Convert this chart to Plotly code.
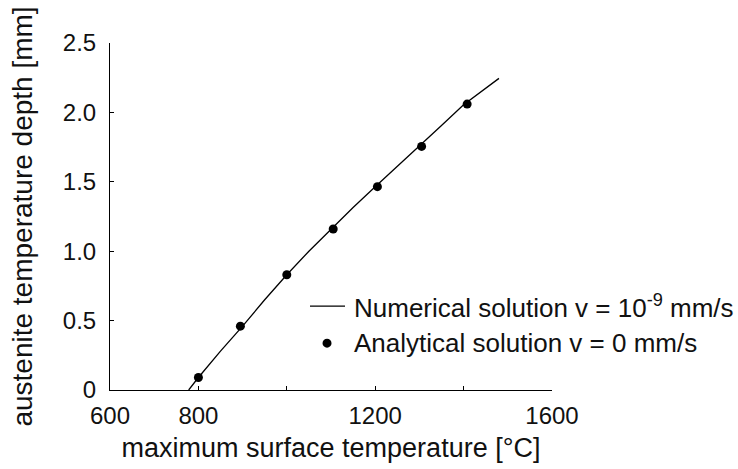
import plotly.graph_objects as go

# Numerical solution (line)
num_T = [778, 800, 850, 900, 950, 1000, 1050, 1100, 1150, 1200, 1250, 1300, 1350, 1400, 1440, 1480]
num_d = [0.0, 0.09, 0.28, 0.46, 0.65, 0.83, 1.0, 1.16, 1.315, 1.465, 1.61, 1.755, 1.905, 2.055, 2.15, 2.245]

# Analytical solution (points)
ana_T = [800, 895, 1000, 1105, 1205, 1305, 1408]
ana_d = [0.09, 0.46, 0.83, 1.16, 1.465, 1.755, 2.06]

x_tickvals = [600, 800, 1000, 1200, 1400, 1600]
x_ticktext = ["600", "800", "", "1200", "", "1600"]
y_tickvals = [0, 0.5, 1.0, 1.5, 2.0, 2.5]
y_ticktext = ["0", "0.5", "1.0", "1.5", "2.0", "2.5"]

legend_labels = ["Numerical solution v = 10<sup>-9</sup> mm/s", "Analytical solution v = 0 mm/s"]

FONT = "Liberation Sans, Arial, sans-serif"
TXT = "#111111"

fig = go.Figure()
fig.add_trace(go.Scatter(
    x=num_T, y=num_d, mode="lines",
    line=dict(color="black", width=1.3),
    name=legend_labels[0], showlegend=False,
))
fig.add_trace(go.Scatter(
    x=ana_T, y=ana_d, mode="markers",
    marker=dict(color="black", size=9),
    name=legend_labels[1], showlegend=False,
))

# Manual legend (kept inside the figure without resizing the plot area)
row_y = [0.242, 0.135]
fig.add_shape(type="line", xref="paper", yref="paper",
              x0=0.4525, x1=0.5317, y0=row_y[0], y1=row_y[0],
              line=dict(color="black", width=1.3))
fig.add_shape(type="circle", xref="paper", yref="paper",
              x0=0.491 - 0.0102, x1=0.491 + 0.0102,
              y0=row_y[1] - 0.013, y1=row_y[1] + 0.013,
              fillcolor="black", line=dict(color="black", width=0))
for lab, yy in zip(legend_labels, row_y):
    fig.add_annotation(text=lab, xref="paper", yref="paper", x=0.5475, y=yy,
                       xanchor="left", yanchor="middle", showarrow=False,
                       font=dict(size=26, family=FONT, color=TXT))

fig.update_layout(
    width=738, height=469,
    margin=dict(l=110, r=186, t=43, b=79),
    paper_bgcolor="white", plot_bgcolor="white",
    font=dict(family=FONT, size=24, color=TXT),
    showlegend=False,
    xaxis=dict(
        range=[600, 1600], tickvals=x_tickvals, ticktext=x_ticktext,
        ticks="inside", ticklen=4, tickcolor="black", tickwidth=1,
        showline=True, linecolor="black", linewidth=1,
        showgrid=False, zeroline=False,
        tickfont=dict(size=24), ticklabelstandoff=4,
        title=dict(text="maximum surface temperature [°C]", font=dict(size=27), standoff=10),
    ),
    yaxis=dict(
        range=[0, 2.5], tickvals=y_tickvals, ticktext=y_ticktext,
        ticks="inside", ticklen=4, tickcolor="black", tickwidth=1,
        showline=True, linecolor="black", linewidth=1,
        showgrid=False, zeroline=False,
        tickfont=dict(size=24), ticklabelstandoff=8,
        title=dict(text="austenite temperature depth [mm]", font=dict(size=28), standoff=22),
    ),
)

fig.write_html("out.html")
